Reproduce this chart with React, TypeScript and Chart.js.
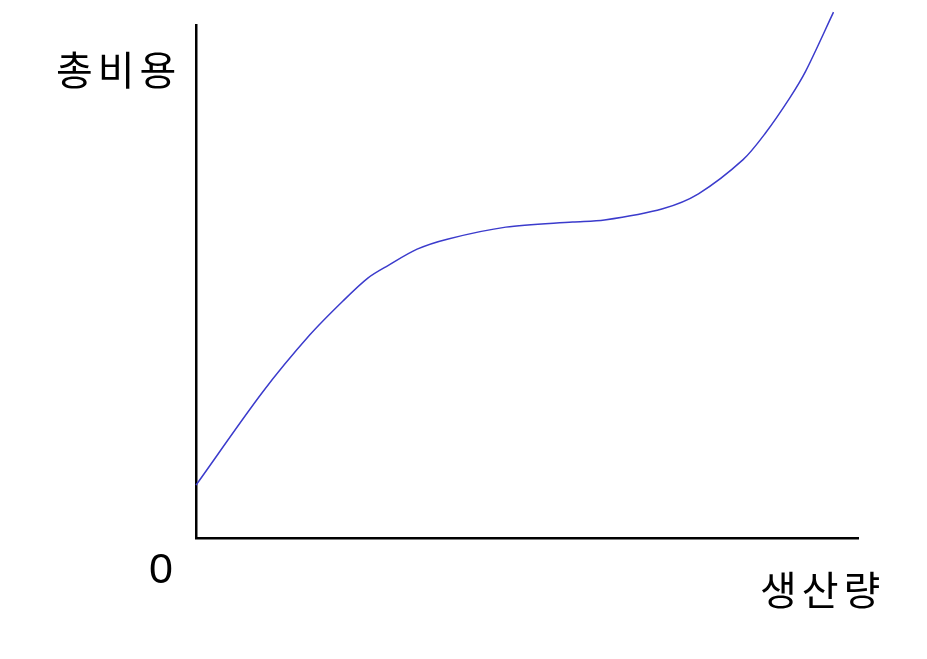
import { useEffect, useRef } from "react";
import { Chart, registerables } from "chart.js";

Chart.register(...registerables);

// output level (x) and total cost (y), 0-100 on both axes
const outputs = [0, 10.1, 17.2, 22.2, 26.0, 29.0, 33.4, 38.1, 46.8, 56.9, 61.7, 70.5, 75.9, 82.6, 86.0, 89.7, 92.1, 96.3];
const totalCost = [10.3, 28.5, 39.6, 46.2, 50.7, 53.1, 56.3, 58.3, 60.6, 61.6, 62.0, 64.2, 67.1, 73.7, 78.9, 85.8, 91.0, 102.5];

const yLabel = "총비용";
const xLabel = "생산량";
const originLabel = "0";

const krFont = '"Noto Sans CJK KR", sans-serif';

export default function App() {
  const canvasRef = useRef<HTMLCanvasElement>(null);

  useEffect(() => {
    if (!canvasRef.current) return;
    const chart = new Chart(canvasRef.current, {
      type: "line",
      data: {
        datasets: [
          {
            data: outputs.map((x, i) => ({ x, y: totalCost[i] })),
            borderColor: "#3b3bcc",
            borderWidth: 1.5,
            pointRadius: 0,
            tension: 0.3,
            fill: false,
            clip: false,
          },
        ],
      },
      options: {
        responsive: false,
        animation: false,
        events: [],
        // the scales eat 8px each, so the plot area lands at 196..858 x 25..538
        layout: { padding: { left: 188, top: 25, right: 69, bottom: 113 } },
        plugins: { legend: { display: false }, tooltip: { enabled: false } },
        scales: {
          x: {
            type: "linear",
            min: 0,
            max: 100,
            grid: { display: false },
            ticks: { display: false },
            border: { color: "#000", width: 2.5 },
          },
          y: {
            type: "linear",
            min: 0,
            max: 100,
            grid: { display: false },
            ticks: { display: false },
            border: { color: "#000", width: 2.5 },
          },
        },
      },
    });
    return () => chart.destroy();
  }, []);

  const text = { position: "absolute" as const, fontFamily: krFont, fontSize: 40, letterSpacing: 5, color: "#000", lineHeight: 1, whiteSpace: "nowrap" as const };

  return (
    <div style={{ position: "fixed", left: 0, top: 0, width: 927, height: 659, background: "#fff" }}>
      <canvas ref={canvasRef} width={927} height={659} style={{ position: "absolute", left: 0, top: 0 }} />
      <div style={{ ...text, left: 56, top: 48 }}>{yLabel}</div>
      <div style={{ ...text, left: 149, top: 547, fontFamily: '"Liberation Sans", sans-serif', fontSize: 43, letterSpacing: 0 }}>{originLabel}</div>
      <div style={{ ...text, left: 760, top: 568 }}>{xLabel}</div>
    </div>
  );
}
